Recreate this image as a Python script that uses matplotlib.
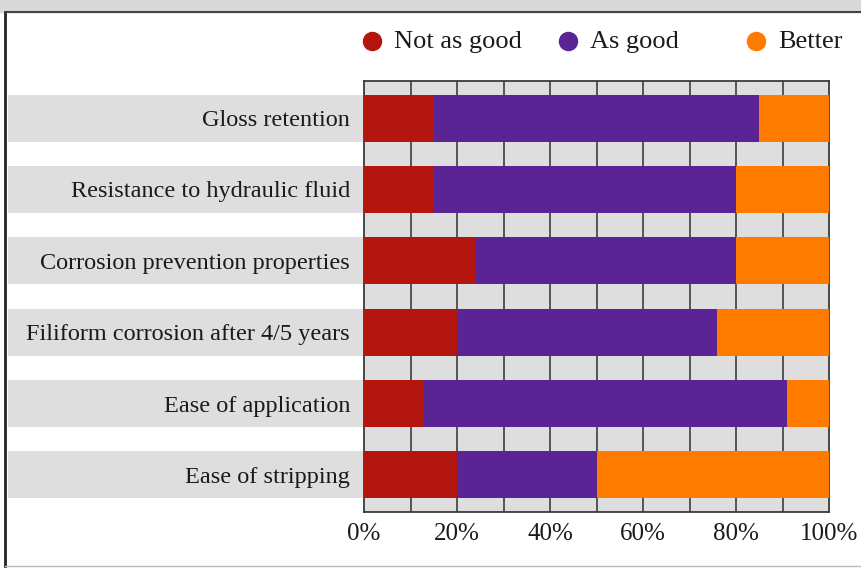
import matplotlib.pyplot as plt
from matplotlib.lines import Line2D
from matplotlib.patches import Rectangle
import numpy as np

# datos
categorias = ["Gloss retention", "Resistance to hydraulic fluid",
              "Corrosion prevention properties", "Filiform corrosion after 4/5 years",
              "Ease of application", "Ease of stripping"]
not_as_good = [15, 15, 24, 20, 13, 20]
as_good = [70, 65, 56, 56, 78, 30]
better = [15, 20, 20, 24, 9, 50]
series = ["Not as good", "As good", "Better"]
colores = ["#b2160f", "#5a2494", "#ff7b00"]
ticks = [0, 20, 40, 60, 80, 100]

plt.rcParams['font.family'] = ['Liberation Serif', 'DejaVu Serif']
fs = 17.5
gris = "#dedede"

fig = plt.figure(figsize=(8.61, 5.69), dpi=100)
ax = fig.add_axes([364/861, 1-512/569, 465/861, 431/569])
ax.set_facecolor(gris)

y = np.arange(len(categorias))
h = 0.66

# franjas grises detrás de las etiquetas
ancho_banda = (364-8)/465*100
ax.barh(y, ancho_banda, left=-ancho_banda, height=h, color=gris, clip_on=False, zorder=1)

izq = np.zeros(len(categorias))
for vals, col in zip([not_as_good, as_good, better], colores):
    ax.barh(y, vals, left=izq, height=h, color=col, zorder=3)
    izq = izq + np.array(vals)

for gx in range(10, 100, 10):
    ax.axvline(gx, color="#4a4a4a", lw=1.3, zorder=2)

ax.set_xlim(0, 100)
ax.set_ylim(len(categorias)-0.48, -0.52)
ax.set_yticks(y)
ax.set_yticklabels(categorias, fontsize=fs, color="#1a1a1a")
ax.set_xticks(ticks)
ax.set_xticklabels([f"{t}%" for t in ticks], fontsize=18, color="#1a1a1a")
ax.tick_params(length=0)
ax.tick_params(axis='y', pad=10)
ax.tick_params(axis='x', pad=8)
for s in ax.spines.values():
    s.set_color("#3a3a3a")
    s.set_linewidth(1.3)

# leyenda manual
pos_leyenda = [372, 568, 756]
for px, nombre, col in zip(pos_leyenda, series, colores):
    fig.add_artist(Line2D([px/861], [1-41/569], marker='o', markersize=13,
                          color=col, linestyle='none'))
    fig.text((px+22)/861, 1-42/569, nombre, fontsize=19, va='center', ha='left', color="#1a1a1a")

# marco de la página
fig.add_artist(Rectangle((0, 1-12/569), 1, 12/569, transform=fig.transFigure,
                         color="#d9d9d9", zorder=0))
fig.add_artist(Line2D([5/861, 5/861], [1-12/569, 1-566/569], color="#222222", lw=2))
fig.add_artist(Line2D([5/861, 1], [1-12/569, 1-12/569], color="#444444", lw=1.5))
fig.add_artist(Line2D([5/861, 1], [1-566/569, 1-566/569], color="#bbbbbb", lw=1))

fig.savefig("out.png", dpi=100)
